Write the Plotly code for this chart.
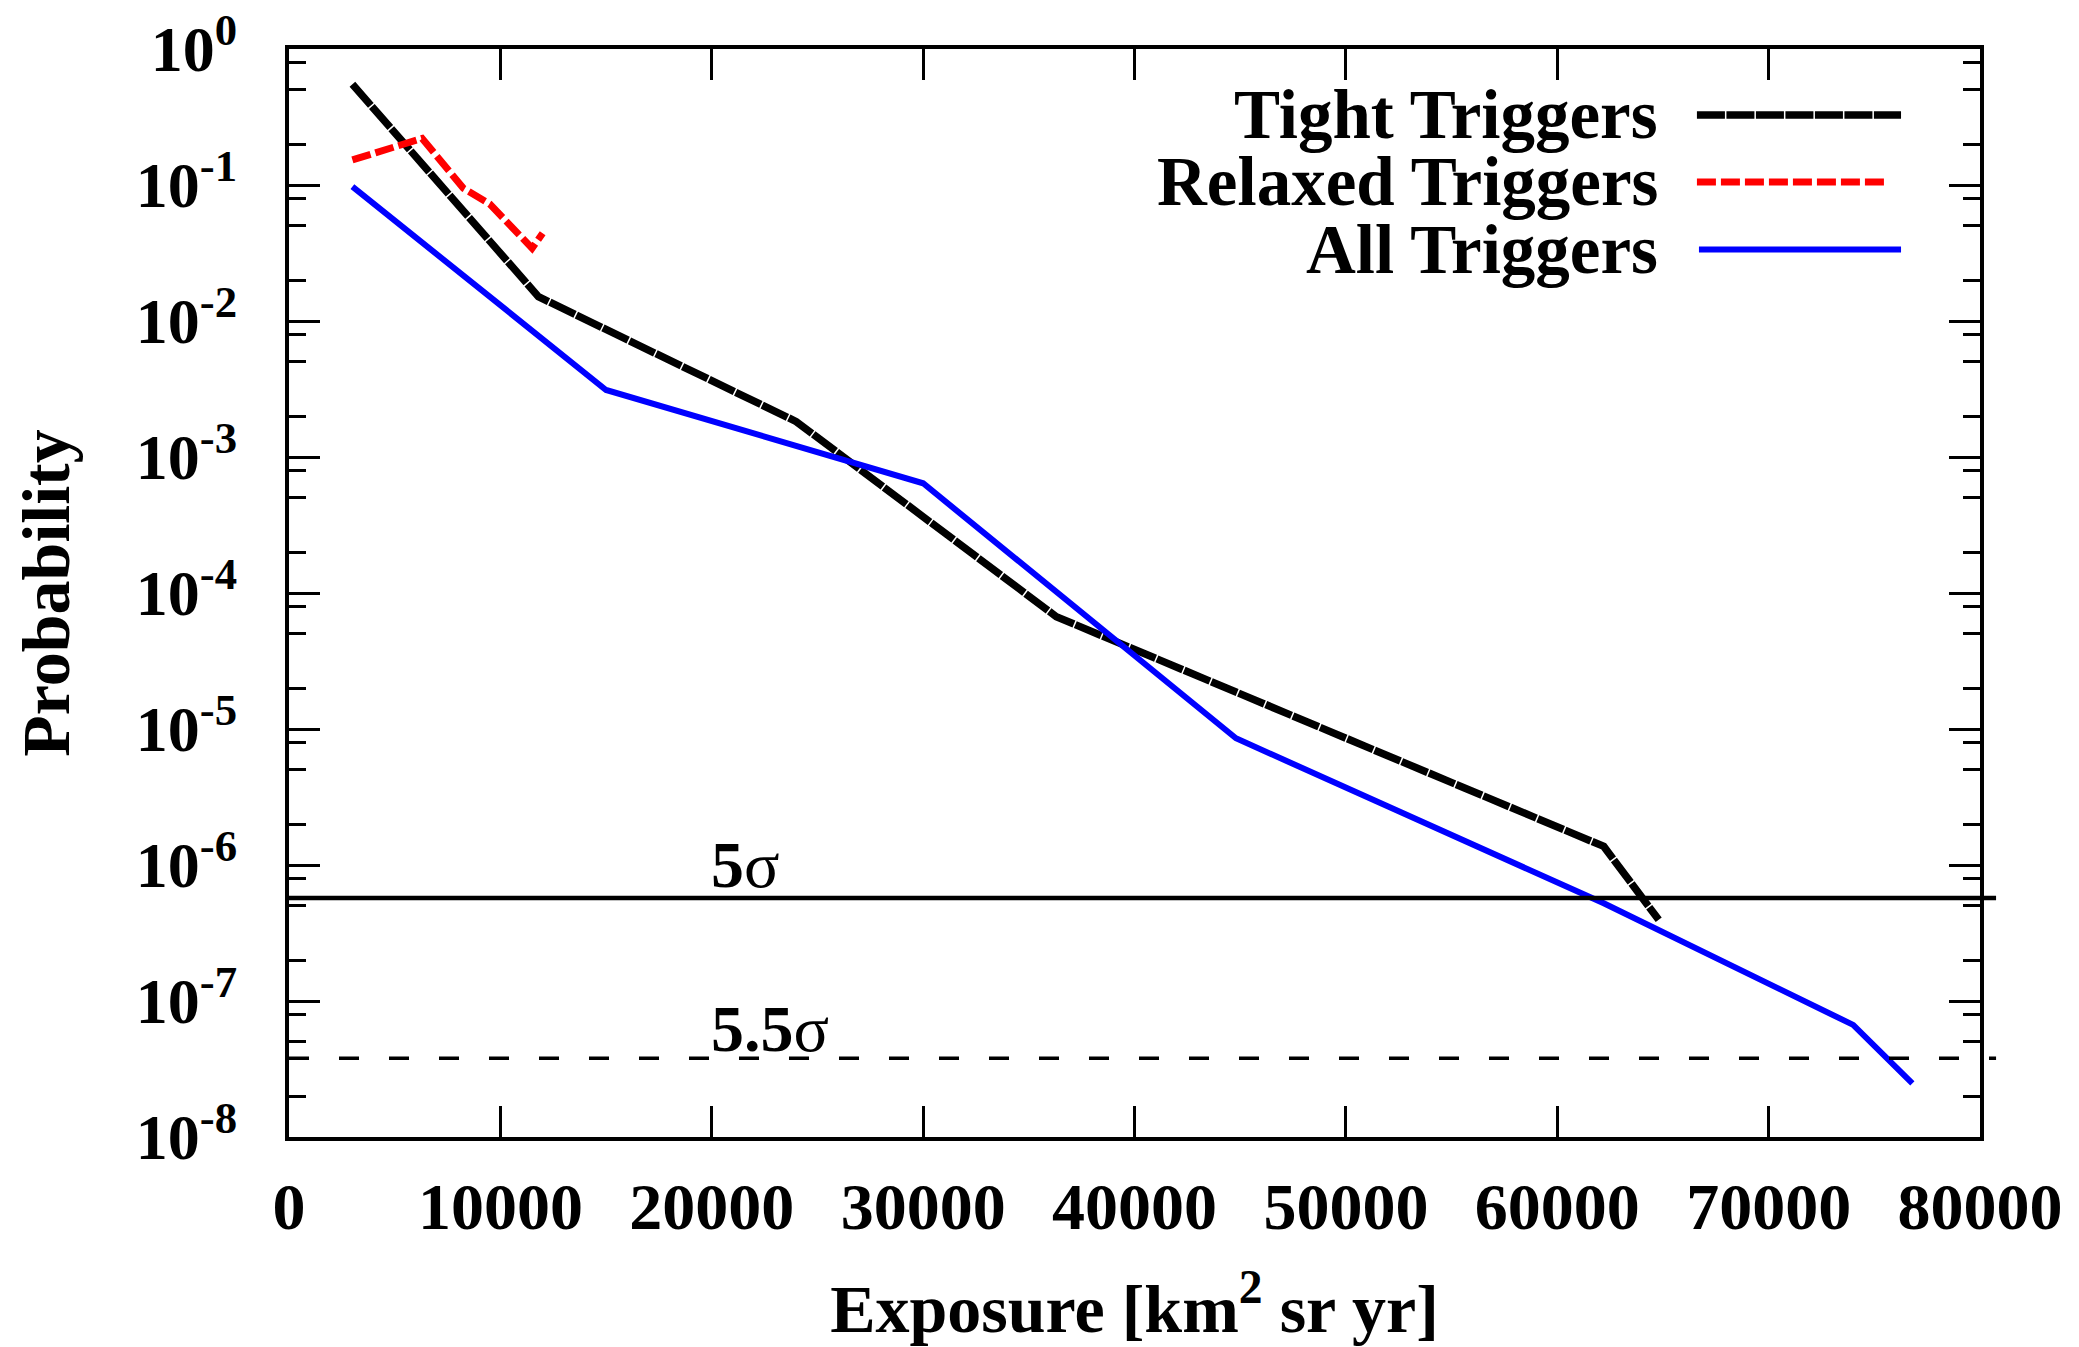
import math
import plotly.graph_objects as go

# ---------------- data ----------------
tight_x = [3000, 11800, 24000, 36300, 62200, 64800]
tight_y = [0.55, 0.0151, 1.82e-3, 6.7e-5, 1.37e-6, 3.95e-7]

relaxed_x = [3000, 6300, 8250, 9500, 11500, 12000]
relaxed_y = [0.153, 0.22, 0.0946, 0.0724, 0.0343, 0.0442]

all_x = [3000, 15000, 30000, 44800, 52000, 62200, 74000, 76800]
all_y = [0.0973, 3.11e-3, 6.41e-4, 8.55e-6, 2.69e-6, 5.23e-7, 6.67e-8, 2.48e-8]

series_names = ["Tight Triggers", "Relaxed Triggers", "All Triggers"]
sigma_labels = ["<b>5</b>σ", "<b>5.5</b>σ"]
sigma_probs = [5.73e-7, 3.8e-8]
sigma_label_x = 20000

x_ticks = [0, 10000, 20000, 30000, 40000, 50000, 60000, 70000, 80000]
y_exponents = [-8, -7, -6, -5, -4, -3, -2, -1, 0]
minor_mantissas = [2, 5, 8]

x_title = "Exposure [km<sup>2</sup> sr yr]"
y_title = "Probability"

# ---------------- styling ----------------
FONT = "Liberation Serif"
colors = ["#000000", "#ff0000", "#0000ff"]
dashes = ["28px,1.5px", "19px,5px", "solid"]
widths = [7.5, 7, 6]

W, H = 2079, 1347
ML, MR, MT, MB = 289, 99, 49, 210

fig = go.Figure()
for xs, ys, name, c, d, w in zip([tight_x, relaxed_x, all_x],
                                 [tight_y, relaxed_y, all_y],
                                 series_names, colors, dashes, widths):
    fig.add_trace(go.Scatter(x=xs, y=ys, mode="lines", name=name,
                             line=dict(color=c, width=w, dash=d),
                             showlegend=False))

# threshold lines (data y, paper x so they poke slightly beyond the frame)
x_ext = 1.0095
fig.add_shape(type="line", xref="paper", yref="y", x0=0, x1=x_ext,
              y0=sigma_probs[0], y1=sigma_probs[0],
              line=dict(color="black", width=4.5))
fig.add_shape(type="line", xref="paper", yref="y", x0=0, x1=x_ext,
              y0=sigma_probs[1], y1=sigma_probs[1],
              line=dict(color="black", width=3.5, dash="20px,30px"))

for lab, p, ys in zip(sigma_labels, sigma_probs, [-5, -9]):
    fig.add_annotation(x=sigma_label_x, y=math.log10(p), xref="x", yref="y",
                       text=lab, showarrow=False, xanchor="left", yanchor="bottom",
                       yshift=ys, xshift=-3,
                       font=dict(family=FONT, size=66, color="black", weight="normal"))

# manual gnuplot-style key: text right-aligned, sample to its right
key_text_y = [0.9393, 0.8778, 0.8157]
key_line_x0 = [0.8326, 0.8326, 0.8338]
key_line_x1 = [0.9533, 0.9444, 0.9533]
for name, c, d, w, ty, lx0, lx1 in zip(series_names, colors, dashes, widths,
                                      key_text_y, key_line_x0, key_line_x1):
    fig.add_annotation(x=0.8108, y=ty, xref="paper", yref="paper", text=name,
                       showarrow=False, xanchor="right", yanchor="middle",
                       font=dict(family=FONT, size=69, color="black", weight="bold"))
    fig.add_shape(type="line", xref="paper", yref="paper", x0=lx0, x1=lx1,
                  y0=ty, y1=ty, line=dict(color=c, width=w, dash=d))

minor_vals = [m * 10 ** e for e in y_exponents[:-1] for m in minor_mantissas]

fig.update_layout(
    width=W, height=H,
    margin=dict(l=ML, r=MR, t=MT, b=MB, autoexpand=False),
    paper_bgcolor="white", plot_bgcolor="white",
    font=dict(family=FONT, color="black", size=62, weight="bold"),
    showlegend=False,
)

fig.update_xaxes(
    range=[0, 80000], tickvals=x_ticks, ticktext=[str(v) for v in x_ticks],
    showline=True, linecolor="black", linewidth=4, mirror="ticks",
    ticks="inside", ticklen=31, tickwidth=3, tickcolor="black",
    showgrid=False, zeroline=False, automargin=False,
    tickfont=dict(family=FONT, size=66, weight="bold"),
    ticklabelstandoff=9,
    title=dict(text=x_title, font=dict(family=FONT, size=68, weight="bold"), standoff=55),
)

fig.update_yaxes(
    type="log", range=[-8, 0],
    tickvals=[10.0 ** e for e in y_exponents],
    ticktext=["10<sup>%d</sup>" % e for e in y_exponents],
    showline=True, linecolor="black", linewidth=4, mirror="ticks",
    ticks="inside", ticklen=31, tickwidth=3, tickcolor="black",
    minor=dict(tickvals=minor_vals, ticks="inside", ticklen=17, tickwidth=3,
               tickcolor="black", showgrid=False),
    showgrid=False, zeroline=False, automargin=False,
    tickfont=dict(family=FONT, size=64, weight="bold"),
    ticklabelstandoff=35,
    title=dict(text=y_title, font=dict(family=FONT, size=68, weight="bold"), standoff=45),
)

fig.write_html("out.html")
